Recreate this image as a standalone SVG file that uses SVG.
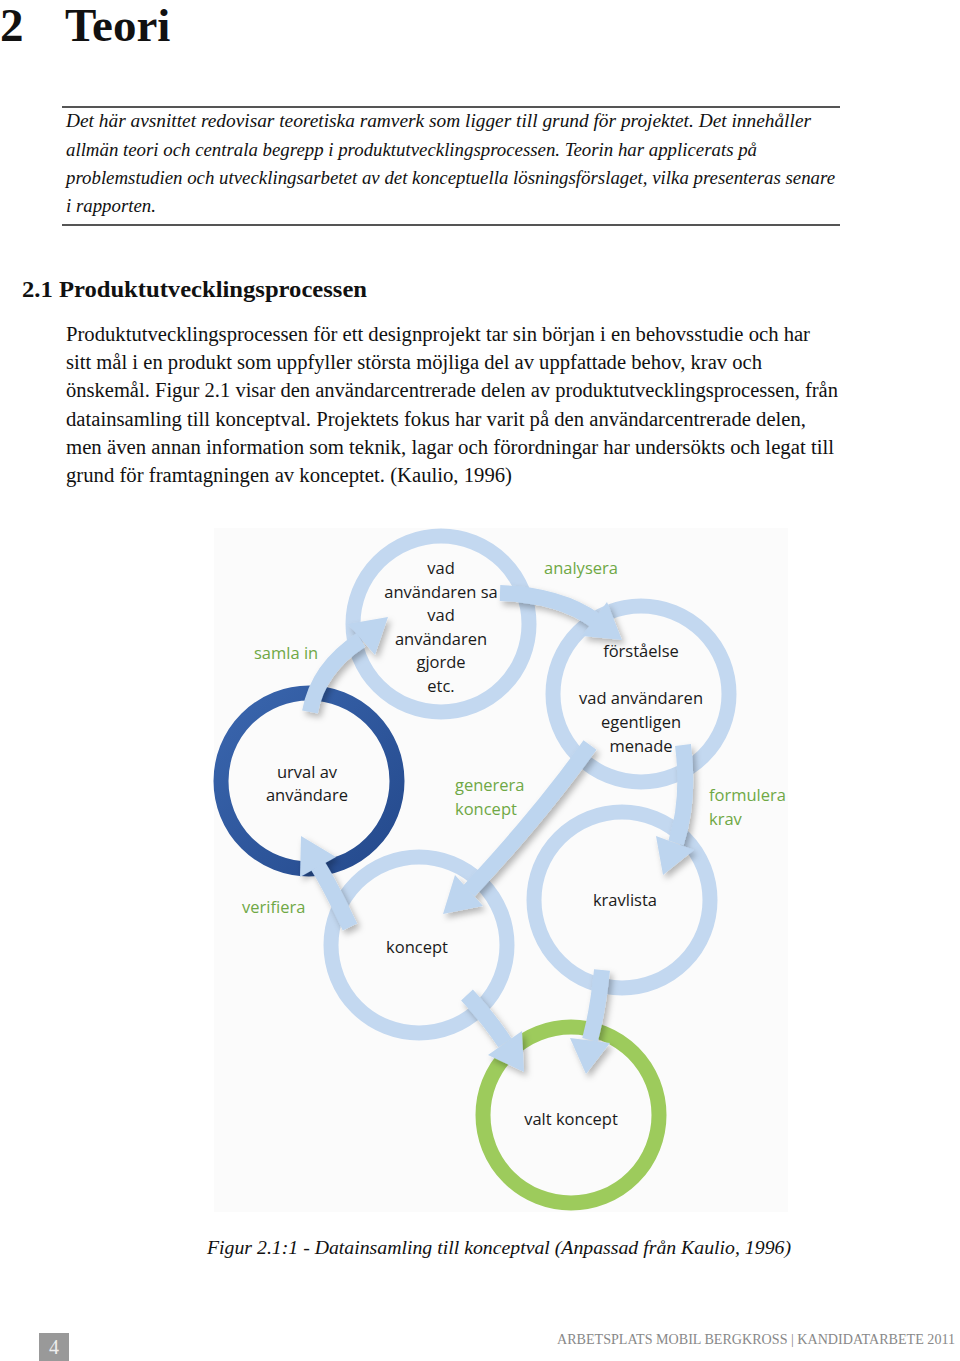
<svg xmlns="http://www.w3.org/2000/svg" width="960" height="1361" viewBox="0 0 960 1361">
<defs>
<style>
.serif{font-family:"Liberation Serif","Times New Roman",serif;fill:#111}
.it{font-family:"Liberation Serif","Times New Roman",serif;font-style:italic;font-size:19px;fill:#111}
.body{font-family:"Liberation Serif","Times New Roman",serif;font-size:20px;fill:#111}
.ring{fill:none;stroke:#C3D8F0;stroke-width:15}
.nt{font-family:"Open Sans","Liberation Sans",sans-serif;font-size:16.5px;fill:#1a1a1a;text-anchor:middle}
.lbl{font-family:"Open Sans","Liberation Sans",sans-serif;font-size:16.5px;fill:#6FA845}
.shaft{fill:none;stroke:#BDD5EF;stroke-width:16;stroke-linecap:butt}
.head{fill:#BDD5EF}
</style>
<filter id="sh" x="-30%" y="-30%" width="160%" height="160%">
<feDropShadow dx="3" dy="4" stdDeviation="3" flood-color="#000" flood-opacity="0.28"/>
</filter>
<linearGradient id="dark" x1="0" y1="0" x2="1" y2="1">
<stop offset="0" stop-color="#3A66AE"/>
<stop offset="1" stop-color="#24498C"/>
</linearGradient>
</defs>
<rect width="960" height="1361" fill="#fff"/>

<!-- Header -->
<text class="serif" x="0" y="41" font-size="47" font-weight="bold">2</text>
<text class="serif" x="65" y="41" font-size="47" font-weight="bold">Teori</text>
<line x1="62" y1="107" x2="840" y2="107" stroke="#555" stroke-width="2"/>
<text class="it" x="66" y="127" textLength="745" lengthAdjust="spacingAndGlyphs">Det här avsnittet redovisar teoretiska ramverk som ligger till grund för projektet. Det innehåller</text>
<text class="it" x="66" y="156" textLength="691" lengthAdjust="spacingAndGlyphs">allmän teori och centrala begrepp i produktutvecklingsprocessen. Teorin har applicerats på</text>
<text class="it" x="66" y="184" textLength="769" lengthAdjust="spacingAndGlyphs">problemstudien och utvecklingsarbetet av det konceptuella lösningsförslaget, vilka presenteras senare</text>
<text class="it" x="66" y="212" textLength="90" lengthAdjust="spacingAndGlyphs">i rapporten.</text>
<line x1="62" y1="225" x2="840" y2="225" stroke="#555" stroke-width="2"/>

<text class="serif" x="22" y="297" font-size="24" font-weight="bold" textLength="345" lengthAdjust="spacingAndGlyphs">2.1 Produktutvecklingsprocessen</text>

<text class="body" x="66" y="341" textLength="744" lengthAdjust="spacingAndGlyphs">Produktutvecklingsprocessen för ett designprojekt tar sin början i en behovsstudie och har</text>
<text class="body" x="66" y="369" textLength="696" lengthAdjust="spacingAndGlyphs">sitt mål i en produkt som uppfyller största möjliga del av uppfattade behov, krav och</text>
<text class="body" x="66" y="397" textLength="772" lengthAdjust="spacingAndGlyphs">önskemål. Figur 2.1 visar den användarcentrerade delen av produktutvecklingsprocessen, från</text>
<text class="body" x="66" y="426" textLength="740" lengthAdjust="spacingAndGlyphs">datainsamling till konceptval. Projektets fokus har varit på den användarcentrerade delen,</text>
<text class="body" x="66" y="454" textLength="768" lengthAdjust="spacingAndGlyphs">men även annan information som teknik, lagar och förordningar har undersökts och legat till</text>
<text class="body" x="66" y="482" textLength="446" lengthAdjust="spacingAndGlyphs">grund för framtagningen av konceptet. (Kaulio, 1996)</text>

<!-- Diagram background -->
<rect x="214" y="528" width="574" height="684" fill="#fbfbfb"/>

<!-- Nodes -->
<g id="node-sa">
<circle class="ring" cx="441" cy="624" r="88"/>
<text class="nt" x="441" y="574">vad</text>
<text class="nt" x="441" y="598">användaren sa</text>
<text class="nt" x="441" y="621">vad</text>
<text class="nt" x="441" y="645">användaren</text>
<text class="nt" x="441" y="668">gjorde</text>
<text class="nt" x="441" y="692">etc.</text>
</g>
<g id="node-forstaelse">
<circle class="ring" cx="641" cy="694" r="88"/>
<text class="nt" x="641" y="657">förståelse</text>
<text class="nt" x="641" y="704">vad användaren</text>
<text class="nt" x="641" y="728">egentligen</text>
<text class="nt" x="641" y="752">menade</text>
</g>
<g id="node-urval">
<circle cx="309" cy="781" r="88" fill="none" stroke="url(#dark)" stroke-width="15"/>
<text class="nt" x="307" y="778">urval av</text>
<text class="nt" x="307" y="801">användare</text>
</g>
<g id="node-koncept">
<circle class="ring" cx="419" cy="945" r="88"/>
<text class="nt" x="417" y="953">koncept</text>
</g>
<g id="node-kravlista">
<circle class="ring" cx="622" cy="900" r="88"/>
<text class="nt" x="625" y="906">kravlista</text>
</g>
<g id="node-valt">
<circle cx="571" cy="1115" r="88" fill="none" stroke="#9DCB5C" stroke-width="15"/>
<text class="nt" x="571" y="1125">valt koncept</text>
</g>

<!-- Connectors -->
<g id="connectors" filter="url(#sh)">
<path class="shaft" d="M310,712 Q318,668 361,640"/>
<polygon class="head" points="388,617 375,655 348,624"/>
<path class="shaft" d="M500,593 Q560,595 596,621"/>
<polygon class="head" points="622,640 582,636 607,602"/>
<path class="shaft" d="M683,745 Q690,800 676,843"/>
<polygon class="head" points="663,875 694,850 656,836"/>
<path class="shaft" d="M590,745 Q540,815 469,891"/>
<polygon class="head" points="443,914 483,906 455,875"/>
<path class="shaft" d="M350,927 Q330,885 318,866"/>
<polygon class="head" points="301,836 336,857 300,877"/>
<path class="shaft" d="M467,995 Q490,1020 505,1043"/>
<polygon class="head" points="524,1072 488,1055 522,1031"/>
<path class="shaft" d="M602,970 Q598,1010 590,1040"/>
<polygon class="head" points="586,1074 610,1043 570,1038"/>
</g>

<!-- Connector labels -->
<text class="lbl" x="254" y="659">samla in</text>
<text class="lbl" x="544" y="574">analysera</text>
<text class="lbl" x="455" y="791">generera</text>
<text class="lbl" x="455" y="815">koncept</text>
<text class="lbl" x="709" y="801">formulera</text>
<text class="lbl" x="709" y="825">krav</text>
<text class="lbl" x="242" y="913">verifiera</text>

<!-- Caption -->
<text class="it" x="207" y="1254" font-size="20" textLength="584" lengthAdjust="spacingAndGlyphs">Figur 2.1:1 - Datainsamling till konceptval (Anpassad från Kaulio, 1996)</text>

<!-- Footer -->
<rect x="39" y="1333" width="30" height="28" fill="#999"/>
<text x="54" y="1354" font-family="Liberation Serif, serif" font-size="20" fill="#eee" text-anchor="middle">4</text>
<text x="557" y="1344" font-family="Liberation Serif, serif" font-size="14" fill="#888" textLength="398" lengthAdjust="spacingAndGlyphs">ARBETSPLATS MOBIL BERGKROSS | KANDIDATARBETE 2011</text>
</svg>
